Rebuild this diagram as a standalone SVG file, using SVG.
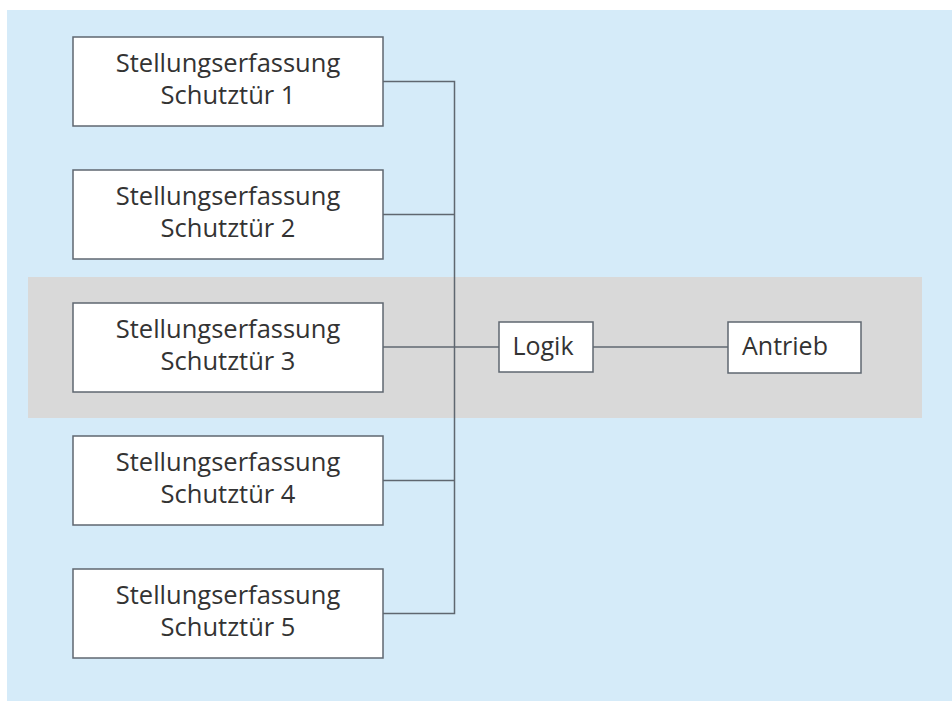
<svg xmlns="http://www.w3.org/2000/svg" width="952" height="701" viewBox="0 0 952 701">
  <style>
    .node rect { fill: #ffffff; stroke: #5f6770; stroke-width: 1.5; }
    .node text { font-family: "Open Sans", "Noto Sans", sans-serif; font-size: 25.5px; fill: #333333; text-anchor: middle; }
    .node text.short { font-size: 25px; }
    .wire { fill: none; stroke: #5f6770; stroke-width: 1.5; }
  </style>
  <rect x="0" y="0" width="952" height="701" fill="#ffffff"/>
  <rect x="7" y="10" width="945" height="691" fill="#d5ebf9"/>
  <rect x="28" y="277" width="894" height="141" fill="#d9d9d9"/>

  <g id="connectors">
    <path class="wire" d="M383,81.5 H454.5 V613.5 H383"/>
    <path class="wire" d="M383,214.5 H454.5"/>
    <path class="wire" d="M383,480.5 H454.5"/>
    <path class="wire" d="M383,347 H499"/>
    <path class="wire" d="M593,347 H728"/>
  </g>

  <g id="door1" class="node">
    <rect x="73" y="37" width="310" height="89"/>
    <text x="228" y="72">Stellungserfassung</text>
    <text x="228" y="104">Schutztür 1</text>
  </g>
  <g id="door2" class="node">
    <rect x="73" y="170" width="310" height="89"/>
    <text x="228" y="205">Stellungserfassung</text>
    <text x="228" y="237">Schutztür 2</text>
  </g>
  <g id="door3" class="node">
    <rect x="73" y="303" width="310" height="89"/>
    <text x="228" y="338">Stellungserfassung</text>
    <text x="228" y="370">Schutztür 3</text>
  </g>
  <g id="door4" class="node">
    <rect x="73" y="436" width="310" height="89"/>
    <text x="228" y="471">Stellungserfassung</text>
    <text x="228" y="503">Schutztür 4</text>
  </g>
  <g id="door5" class="node">
    <rect x="73" y="569" width="310" height="89"/>
    <text x="228" y="604">Stellungserfassung</text>
    <text x="228" y="636">Schutztür 5</text>
  </g>
  <g id="logik" class="node">
    <rect x="499" y="322" width="94" height="50"/>
    <text class="short" x="543" y="355">Logik</text>
  </g>
  <g id="antrieb" class="node">
    <rect x="728" y="322" width="133" height="51"/>
    <text class="short" x="785" y="355">Antrieb</text>
  </g>
</svg>
